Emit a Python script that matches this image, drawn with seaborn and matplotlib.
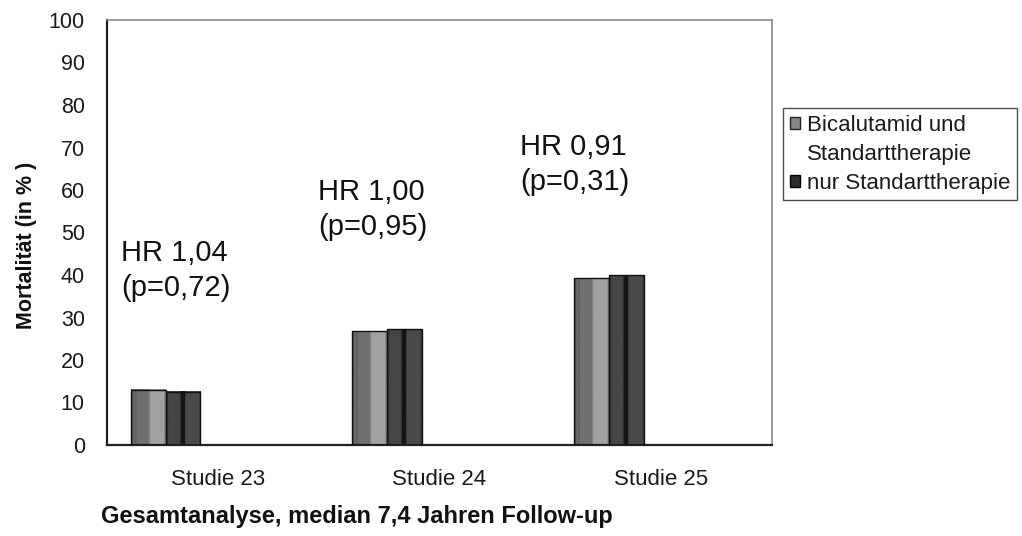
import numpy as np
import pandas as pd
import matplotlib
matplotlib.use("Agg")
import matplotlib.pyplot as plt
from matplotlib.patches import Patch
import seaborn as sns

# ---- data -------------------------------------------------------------
studies = ["Studie 23", "Studie 24", "Studie 25"]
bicalutamid = [13.0, 26.8, 39.2]
standard = [12.5, 27.2, 40.0]
series_names = ["Bicalutamid und Standarttherapie", "nur Standarttherapie"]
hr_labels = ["HR 1,04\n(p=0,72)", "HR 1,00\n(p=0,95)", "HR 0,91\n(p=0,31)"]
y_ticks = list(range(0, 101, 10))
y_label = "Mortalität (in % )"
x_label = "Gesamtanalyse, median 7,4 Jahren Follow-up"

# ---- layout -----------------------------------------------------------
GROUP_SHIFT = -0.236          # bar cluster sits in the left part of each category
GROUP_WIDTH = 0.315
hr_anchor = [(-0.437, 48.4), (0.452, 62.8), (1.363, 73.3)]   # top-left of each HR note

sns.set_style("white")
plt.rcParams["font.family"] = ["Liberation Sans", "DejaVu Sans"]

df = pd.DataFrame({
    "pos": [i + GROUP_SHIFT for i in range(len(studies))] * 2,
    "Studie": studies * 2,
    "Mortalität": bicalutamid + standard,
    "Gruppe": [series_names[0]] * len(studies) + [series_names[1]] * len(studies),
})

fig = plt.figure(figsize=(10.22, 5.36), dpi=100)
ax = fig.add_axes([107 / 1022, 1 - 445 / 536, (772 - 107) / 1022, (445 - 20) / 536])

sns.barplot(data=df, x="pos", y="Mortalität", hue="Gruppe", hue_order=series_names,
            native_scale=True, width=GROUP_WIDTH, palette=["#808080", "#404040"],
            edgecolor="#111111", linewidth=1.0, legend=False, ax=ax)

# shaded column faces (two-tone cylinder look)
def profile(stops, n=60):
    col = np.zeros(n)
    for start, val in stops:
        col[int(start * n):] = val
    return np.repeat(col[:, None], 3, axis=1) / 255.0

shades = [
    profile([(0.0, 0x55), (0.07, 0x6c), (0.13, 0x60), (0.18, 0x70), (0.52, 0x8a), (0.56, 0xa2), (0.96, 0x88)]),
    profile([(0.0, 0x3a), (0.07, 0x46), (0.40, 0x2a), (0.44, 0x14), (0.55, 0x4a), (0.95, 0x3a)]),
]
for container, shade in zip(ax.containers, shades):
    for bar in container:
        x0, y0 = bar.get_x(), bar.get_y()
        w, h = bar.get_width(), bar.get_height()
        ax.imshow(shade[None, :, :], extent=[x0, x0 + w, y0, y0 + h], aspect="auto",
                  interpolation="bilinear", zorder=2)
        bar.set_facecolor("none")
        bar.set_zorder(3)

# HR annotations
for (tx, ty), txt in zip(hr_anchor, hr_labels):
    ax.text(tx, ty, txt, ha="left", va="top", fontsize=21, color="#111111",
            linespacing=1.3)

# axes
ax.set_xlim(-0.5, len(studies) - 0.5)
ax.set_ylim(0, 100)
ax.set_yticks(y_ticks)
ax.set_xticks([i + 0.5 for i in range(len(studies) - 1)])
ax.set_xticklabels([])
ax.set_xticks(range(len(studies)), minor=True)
ax.set_xticklabels(studies, minor=True)
ax.tick_params(axis="x", which="major", direction="in", length=5, width=1.2, color="#222222")
ax.tick_params(axis="x", which="minor", length=0, pad=17, labelsize=16, labelcolor="#1a1a1a")
ax.tick_params(axis="y", direction="out", length=6, width=1.2, color="#222222", pad=10,
               labelsize=15.5, labelcolor="#1a1a1a")

ax.set_ylabel(y_label, fontsize=15.5, fontweight="bold", color="#111111")
ax.yaxis.set_label_coords(-0.106, 0.47)
ax.set_xlabel(x_label, fontsize=17, fontweight="bold", color="#111111")
ax.xaxis.set_label_coords(0.376, -0.142)

for side in ("left", "bottom"):
    ax.spines[side].set_color("#222222")
    ax.spines[side].set_linewidth(1.6)
for side in ("top", "right"):
    ax.spines[side].set_visible(True)
    ax.spines[side].set_color("#8a8a8a")
    ax.spines[side].set_linewidth(1.2)

# legend: first label spans two lines, handle aligned to its first line
legend_handles = [
    Patch(facecolor="#888888", edgecolor="#222222", linewidth=1.0),
    Patch(facecolor="none", edgecolor="none"),
    Patch(facecolor="#2c2c2c", edgecolor="#000000", linewidth=1.0),
]
legend_texts = ["Bicalutamid und", "Standarttherapie", series_names[1]]
leg = fig.legend(legend_handles, legend_texts, loc="upper left",
                 bbox_to_anchor=(783 / 1022, 1 - 108 / 536), bbox_transform=fig.transFigure,
                 fontsize=16, frameon=True, fancybox=False, borderaxespad=0,
                 borderpad=0.3, handlelength=0.45, handleheight=0.45, handletextpad=0.32,
                 labelspacing=0.36)
leg.get_frame().set_edgecolor("#222222")
leg.get_frame().set_linewidth(1.0)
for t in leg.get_texts():
    t.set_color("#1a1a1a")

fig.savefig("out.png", dpi=100, facecolor="white")
